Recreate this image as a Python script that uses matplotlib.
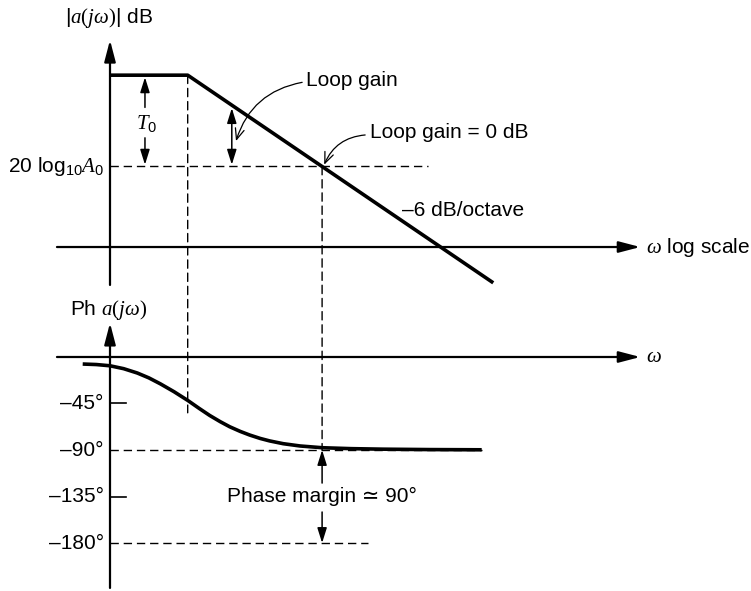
import matplotlib
matplotlib.use('Agg')
import matplotlib.pyplot as plt
from matplotlib.patches import ConnectionPatch

plt.rcParams['font.family'] = ['Liberation Sans', 'DejaVu Sans']
plt.rcParams['mathtext.fontset'] = 'custom'
plt.rcParams['mathtext.rm'] = 'Liberation Serif'
plt.rcParams['mathtext.it'] = 'Liberation Serif:italic'
plt.rcParams['mathtext.sf'] = 'Liberation Sans'

# x is log10(omega) in decades, origin at the vertical axes
# magnitude asymptote (dB)
mag_x = [0.0, 0.74, 3.65]
mag_db = [48.0, 48.0, -10.0]
A0_db = 22.5          # 20 log10 A0
w_p = 0.74            # pole
w_c = 2.02            # loop gain = 0 dB

# phase curve (degrees)
ph_x = [-0.26, -0.13, 0.0, 0.13, 0.26, 0.37, 0.48, 0.61, 0.74, 0.85, 0.95, 1.05,
        1.14, 1.24, 1.33, 1.43, 1.52, 1.65, 1.81, 2.02, 2.30, 2.60, 3.05, 3.54]
ph_deg = [-6.8, -7.3, -8.5, -11.3, -15.5, -20.2, -26.0, -33.6, -42.0, -49.8, -56.6, -62.6,
          -67.5, -72.0, -75.5, -78.8, -81.2, -83.9, -86.1, -87.8, -88.7, -89.2, -89.6, -89.8]

ph_ticks = [-45, -90, -135, -180]
ph_labels = ['\u201345\u00b0', '\u201390\u00b0', '\u2013135\u00b0', '\u2013180\u00b0']

fig = plt.figure(figsize=(7.51, 5.91), dpi=100)
ax1 = fig.add_axes([0, 291/591, 1, 300/591])
ax2 = fig.add_axes([0, 0, 1, 291/591])
xl = (-110/105, 641/105)
ax1.set_xlim(xl); ax1.set_ylim(-14.8, 69.0)
ax2.set_xlim(xl); ax2.set_ylim(-226.45, 55.16)
for a in (ax1, ax2):
    a.axis('off')

fs = 15
big = dict(arrowstyle='-|>,head_length=0.65,head_width=0.17', color='k', lw=1.6,
           shrinkA=0, shrinkB=0, mutation_scale=20)
small = dict(arrowstyle='<|-|>,head_length=0.7,head_width=0.22', color='k', lw=1.1,
             shrinkA=0, shrinkB=0, mutation_scale=13)
one = dict(arrowstyle='-|>,head_length=0.7,head_width=0.22', color='k', lw=1.1,
           shrinkA=0, shrinkB=0, mutation_scale=13)
curved = dict(arrowstyle='->,head_length=0.6,head_width=0.25', color='k', lw=0.9,
              shrinkA=0, shrinkB=0, mutation_scale=13, connectionstyle='arc3,rad=0.3')
dash = dict(color='k', lw=1.0, ls=(0, (6, 3.5)))

## magnitude plot
ax1.annotate('', xy=(0, 57.8), xytext=(0, -10.6), arrowprops=big)
ax1.annotate('', xy=(5.05, 0), xytext=(-0.505, 0), arrowprops=big)
ax1.plot(mag_x, mag_db, color='k', lw=2.6, solid_capstyle='butt')
ax1.plot([0, 3.03], [A0_db, A0_db], **dash)

ax1.text(-0.43, 64, r'|$a(j\omega)$| dB', fontsize=fs, va='center', ha='left')
ax1.text(-0.06, A0_db, r'20 $\mathsf{log}_{\mathsf{10}}A_{\mathsf{0}}$', fontsize=fs,
         va='center', ha='right')

# T0 arrow, split around label
ax1.annotate('', xy=(0.333, 47.4), xytext=(0.333, 39.0), arrowprops=one)
ax1.annotate('', xy=(0.333, 23.0), xytext=(0.333, 30.5), arrowprops=one)
ax1.text(0.345, 34.5, r'$T_{\mathsf{0}}$', fontsize=fs, va='center', ha='center')

ax1.annotate('', xy=(1.16, 38.8), xytext=(1.16, 23.0), arrowprops=small)

ax1.text(1.87, 46.6, 'Loop gain', fontsize=fs, va='center', ha='left')
ax1.annotate('', xy=(1.20, 29.6), xytext=(1.83, 46.0), arrowprops=curved)
ax1.text(2.48, 32.1, 'Loop gain = 0 dB', fontsize=fs, va='center', ha='left')
ax1.annotate('', xy=(2.04, 23.0), xytext=(2.43, 31.3), arrowprops=curved)
ax1.text(2.78, 10.3, '\u20136 dB/octave', fontsize=fs, va='center', ha='left')
ax1.text(5.1, 0, r'$\omega$ log scale', fontsize=fs, va='center', ha='left')

## phase plot
ax2.annotate('', xy=(0, 32.9), xytext=(0, -223.5), arrowprops=big)
ax2.annotate('', xy=(5.05, 0), xytext=(-0.505, 0), arrowprops=big)
ax2.text(5.1, 0, r'$\omega$', fontsize=fs, va='center', ha='left')
ax2.text(-0.38, 45.5, r'Ph $a(j\omega)$', fontsize=fs, va='center', ha='left')

for t, lab in zip(ph_ticks, ph_labels):
    ax2.text(-0.06, t, lab, fontsize=fs, va='center', ha='right')
for t in (-45, -135):
    ax2.plot([0, 0.15], [t, t], color='k', lw=1.2)
ax2.plot([0, 3.54], [-90, -90], **dash)
ax2.plot([0, 2.46], [-180, -180], **dash)
ax2.plot(ph_x, ph_deg, color='k', lw=2.6, solid_capstyle='butt', solid_joinstyle='round')

ax2.annotate('', xy=(w_c, -90), xytext=(w_c, -122), arrowprops=one)
ax2.annotate('', xy=(w_c, -180), xytext=(w_c, -150), arrowprops=one)
ax2.text(w_c, -135, 'Phase margin \u2243 90\u00b0', fontsize=fs, va='center', ha='center')

# dashed guides running from magnitude down to phase
for xa, ya, yb in [(w_p, 48.0, -54.0), (w_c, A0_db, -90.0)]:
    con = ConnectionPatch(xyA=(xa, ya), coordsA=ax1.transData,
                          xyB=(xa, yb), coordsB=ax2.transData,
                          color='k', lw=1.0, ls=(0, (6, 3.5)))
    fig.add_artist(con)

plt.savefig('out.png', dpi=100)
